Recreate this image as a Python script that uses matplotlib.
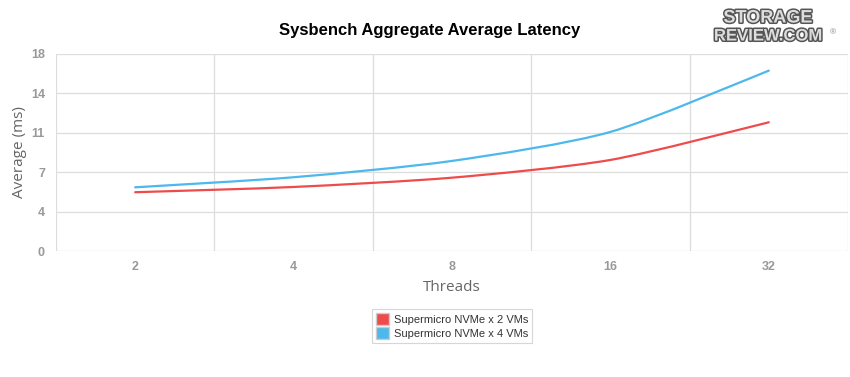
import matplotlib
matplotlib.use('Agg')
import matplotlib.pyplot as plt
from matplotlib.path import Path
from matplotlib.patches import PathPatch, Patch
import matplotlib.patheffects as pe
import numpy as np

threads = ['2', '4', '8', '16', '32']
nvme_2vms = [5.37, 5.85, 6.70, 8.32, 11.76]
nvme_4vms = [5.82, 6.74, 8.23, 10.88, 16.48]
y_ticks = [0, 3.6, 7.2, 10.8, 14.4, 18]
y_labels = ['0', '4', '7', '11', '14', '18']

red = '#EE4B4B'
blue = '#4DB8EC'

plt.rcParams['font.family'] = ['Liberation Sans', 'DejaVu Sans']


def spline_path(xs, ys, k=8.0):
    # smooth bezier through the points
    pts = np.column_stack([xs, ys]).astype(float)
    n = len(pts)
    verts = [pts[0]]
    codes = [Path.MOVETO]
    for i in range(n - 1):
        p0 = pts[i - 1] if i > 0 else pts[i]
        p1 = pts[i]
        p2 = pts[i + 1]
        p3 = pts[i + 2] if i + 2 < n else pts[i + 1]
        c1 = p1 + (p2 - p0) / k
        c2 = p2 - (p3 - p1) / k
        verts += [c1, c2, p2]
        codes += [Path.CURVE4] * 3
    return Path(verts, codes)


fig = plt.figure(figsize=(8.5, 3.77), dpi=100)
ax = fig.add_axes([56 / 850, 1 - 251 / 377, 792 / 850, 197 / 377])

x = np.arange(len(threads))
for vals, col in [(nvme_2vms, red), (nvme_4vms, blue)]:
    ax.add_patch(PathPatch(spline_path(x, vals), facecolor='none',
                           edgecolor=col, lw=1.6, capstyle='round'))

ax.set_xlim(-0.5, len(threads) - 0.5)
ax.set_ylim(0, 18)
ax.set_xticks(x)
ax.set_xticklabels(threads)
ax.set_xticks(np.arange(-0.5, len(threads), 1.0), minor=True)
ax.set_yticks(y_ticks)
ax.set_yticklabels(y_labels)
ax.grid(True, which='minor', axis='x', color='#dddddd', lw=0.9)
ax.grid(True, which='major', axis='y', color='#dddddd', lw=0.9)
ax.set_axisbelow(True)
for s in ax.spines.values():
    s.set_visible(False)
ax.tick_params(which='both', length=0)
ax.tick_params(axis='x', pad=7, labelsize=9, labelcolor='#999999')
ax.tick_params(axis='y', pad=8, labelsize=9, labelcolor='#999999')
for lbl in ax.get_xticklabels() + ax.get_yticklabels():
    lbl.set_fontweight('bold')

ax.set_ylabel('Average (ms)', fontsize=11, color='#666666', labelpad=3,
              family=['Open Sans', 'DejaVu Sans'])
ax.set_xlabel('Threads', fontsize=11, color='#666666', labelpad=5,
              family=['Open Sans', 'DejaVu Sans'])

fig.text(430 / 850, 1 - 31 / 377, 'Sysbench Aggregate Average Latency',
         ha='center', va='center', fontsize=12, fontweight='bold', color='#000000')

# logo
logo_fx = [pe.withStroke(linewidth=2.2, foreground='#555555')]
fig.text(768 / 850, 1 - 18 / 377, 'STORAGE', ha='center', va='center',
         fontsize=13, fontweight='bold', color='#dddddd', fontstretch='condensed',
         path_effects=logo_fx)
fig.text(768 / 850, 1 - 36 / 377, 'REVIEW.COM', ha='center', va='center',
         fontsize=12, fontweight='bold', color='#dddddd',
         path_effects=logo_fx)
fig.text(833 / 850, 1 - 33 / 377, '®', ha='center', va='center',
         fontsize=6, color='#888888')

handles = [Patch(facecolor=red, edgecolor='#cccccc', label='Supermicro NVMe x 2 VMs'),
           Patch(facecolor=blue, edgecolor='#cccccc', label='Supermicro NVMe x 4 VMs')]
leg = fig.legend(handles=handles, loc='center', bbox_to_anchor=(452 / 850, 1 - 326 / 377),
                 fontsize=8, frameon=True, fancybox=False, handlelength=1.2,
                 handleheight=1.2, handletextpad=0.4, borderpad=0.35, labelspacing=0.25)
leg.get_frame().set_edgecolor('#cccccc')
leg.get_frame().set_linewidth(0.8)
for t in leg.get_texts():
    t.set_color('#333333')

fig.savefig('out.png', dpi=100)
